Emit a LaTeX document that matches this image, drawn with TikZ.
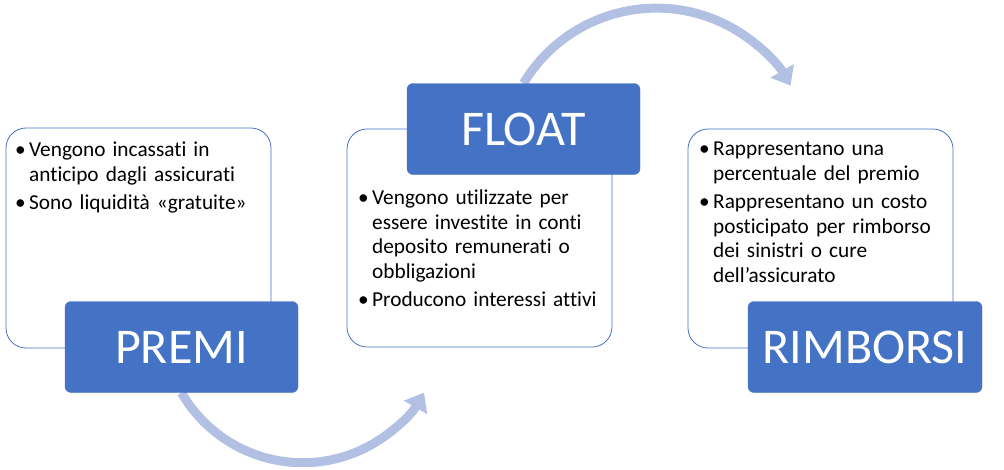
\documentclass[tikz,border=0pt]{standalone}
\usepackage{fontspec}
\setmainfont{Carlito}[Ligatures=NoCommon]
\usepackage{tikz}
\usetikzlibrary{positioning, arrows.meta, backgrounds}
\definecolor{blu}{RGB}{68,114,196}
\definecolor{azzurro}{RGB}{178,192,227}
\newcommand{\voce}[1]{\par\noindent\hangindent=14pt\hangafter=1\makebox[14pt][l]{\textbullet}#1\par}
\tikzset{
    panel/.style={draw=blu, line width=0.8pt, fill=white, rounded corners=20pt, minimum width=265pt, inner sep=0pt},
    titolo/.style={fill=blu, draw=blu, rounded corners=6pt, minimum width=233pt, minimum height=91pt, text=white, font=\fontsize{50}{60}\selectfont, inner sep=0pt},
    elenco/.style={anchor=base west, inner sep=0pt, text width=250pt, align=left, font=\fontsize{21.3}{24.5}\selectfont\setlength{\parskip}{4pt}},
    freccia/.style={draw=azzurro, line width=9pt, -{Triangle[length=17pt, width=26pt]}}
}
\begin{document}
\begin{tikzpicture}[x=1pt, y=-1pt]
\useasboundingbox (0,0) rectangle (1004,469);

% Pannelli bianchi
\node[panel, minimum height=220pt] (pPremi) at (138.5,238) {};
\node[panel, minimum height=218pt] (pFloat) at (479.5,238) {};
\node[panel, minimum height=219pt] (pRimb) at (820.5,238.5) {};

% Testi dei pannelli
\node[elenco] (tPremi) at (15,128) {\voce{Vengono incassati in\newline anticipo dagli assicurati}\voce{Sono liquidità «gratuite»}};
\node[elenco] (tFloat) at (358,176) {\voce{Vengono utilizzate per\newline essere investite in conti\newline deposito remunerati o\newline obbligazioni}\voce{Producono interessi attivi}};
\node[elenco] (tRimb) at (699,127) {\voce{Rappresentano una\newline percentuale del premio}\voce{Rappresentano un costo\newline posticipato per rimborso\newline dei sinistri o cure\newline dell’assicurato}};

% Titoli
\node[titolo] (premi) at (181.5,347) {PREMI};
\node[titolo] (float) at (523.5,129) {FLOAT};
\node[titolo, minimum width=234pt] (rimb) at (865,347) {RIMBORSI};

% Frecce
\begin{scope}[on background layer]
\draw[freccia] (premi.south) arc[start angle=150, end angle=30, radius=140];
\draw[freccia] (float.north) arc[start angle=211, end angle=330, radius=155];
\end{scope}
\end{tikzpicture}
\end{document}
